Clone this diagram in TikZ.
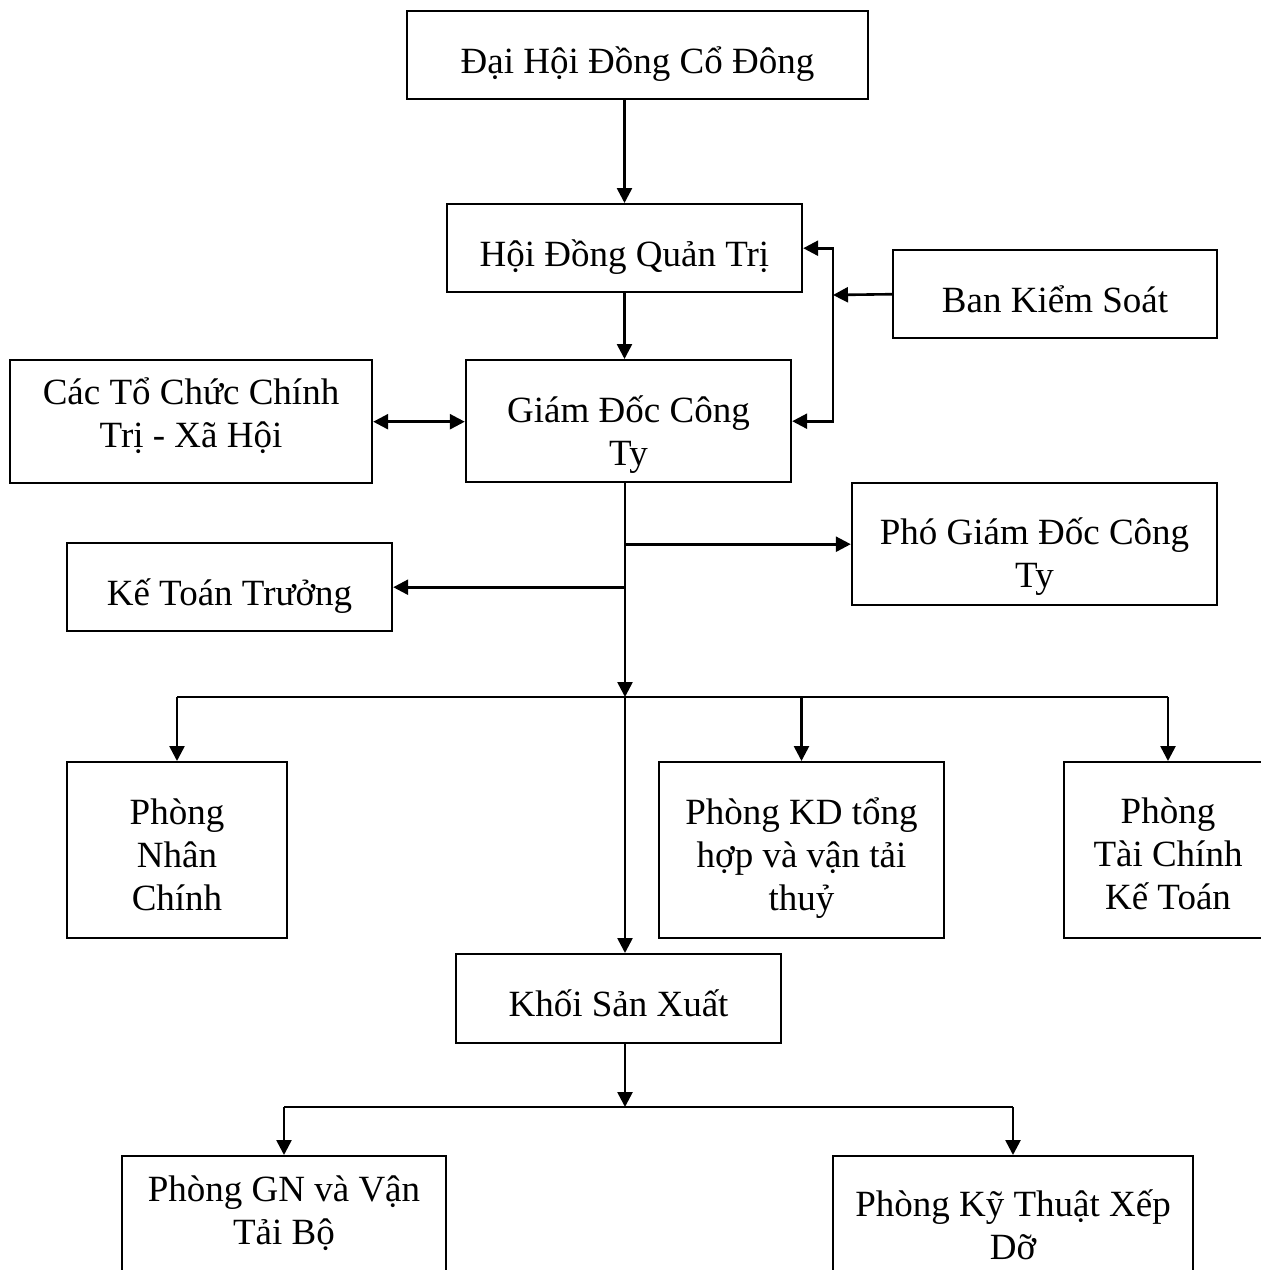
\documentclass[tikz,border=0pt]{standalone}
\usepackage{fontspec}
\setmainfont{Liberation Serif}
\usetikzlibrary{arrows.meta}

\begin{document}
\begin{tikzpicture}[x=1pt,y=-1pt,
                box/.style={draw,line width=2.4pt,anchor=north,align=center,inner xsep=0pt,inner ysep=0pt,font=\fontsize{37}{43}\selectfont},
                arr/.style={-{Triangle[length=15pt,width=15pt]},line width=2.6pt},
                arrboth/.style={{Triangle[length=15pt,width=15pt]}-{Triangle[length=15pt,width=15pt]},line width=2.6pt}]
                \useasboundingbox (0,0) rectangle (1261,1270);

                \node[box,minimum width=461pt,text height=62pt,text depth=26pt] (dhcd) at (637.5,10) {Đại Hội Đồng Cổ Đông};
                \node[box,minimum width=355pt,text height=62pt,text depth=26pt] (hdqt) at (624.5,203) {Hội Đồng Quản Trị};
                \node[box,minimum width=324pt,text height=62pt,text depth=26pt] (bks) at (1055,249) {Ban Kiểm Soát};
                \node[box,minimum width=362pt,text height=87pt,text depth=36pt] (ctc) at (191,359) {Các Tổ Chức Chính\\Trị - Xã Hội};
                \node[box,minimum width=325pt,text height=105pt,text depth=17pt] (gd) at (628.5,359) {Giám Đốc Công\\Ty};
                \node[box,minimum width=365pt,text height=104pt,text depth=18pt] (pgd) at (1034.5,482) {Phó Giám Đốc Công\\Ty};
                \node[box,minimum width=325pt,text height=62pt,text depth=26pt] (ktt) at (229.5,542) {Kế Toán Trưởng};
                \node[box,minimum width=220pt,text height=148pt,text depth=28pt] (pnc) at (177,761) {Phòng\\Nhân\\Chính};
                \node[box,minimum width=285pt,text height=148pt,text depth=28pt] (pkd) at (801.5,761) {Phòng KD tổng\\hợp và vận tải\\thuỷ};
                \node[box,minimum width=208pt,text height=147pt,text depth=29pt] (ptc) at (1168,761) {Phòng\\Tài Chính\\Kế Toán};
                \node[box,minimum width=325pt,text height=62pt,text depth=27pt] (kxs) at (618.5,953) {Khối Sản Xuất};
                \node[box,minimum width=324pt,text height=88pt,text depth=97pt] (pgn) at (284,1155) {Phòng GN và Vận\\Tải Bộ};
                \node[box,minimum width=360pt,text height=103pt,text depth=97pt] (pkt) at (1013,1155) {Phòng Kỹ Thuật Xếp\\Dỡ};

                \coordinate (ks) at (833,295);
                \coordinate (hub) at (625,697);
                \coordinate (hub2) at (625,1107);

                \draw[arr] (dhcd.south -| hdqt.north) -- (hdqt.north);
                \draw[arr] (hdqt.south) -- (hdqt.south |- gd.north);
                \draw[arr] (bks.west) -- (ks);
                \draw[arr] (ks) |- (hdqt.east);
                \draw[arr] (ks) |- (gd.east);
                \draw[arrboth] (ctc.east) -- (ctc.east -| gd.west);

                \draw[arr] (gd.south -| hub) -- (hub);
                \draw[arr] (pgd.west -| hub) -- (pgd.west);
                \draw[arr] (ktt.east -| hub) -- (ktt.east);
                \draw[line width=2.6pt] (pnc.north |- hub) -- (ptc.north |- hub);
                \draw[arr] (pnc.north |- hub) -- (pnc.north);
                \draw[arr] (pkd.north |- hub) -- (pkd.north);
                \draw[arr] (ptc.north |- hub) -- (ptc.north);
                \draw[arr] (hub) -- (hub |- kxs.north);

                \draw[arr] (kxs.south -| hub2) -- (hub2);
                \draw[line width=2.6pt] (pgn.north |- hub2) -- (pkt.north |- hub2);
                \draw[arr] (pgn.north |- hub2) -- (pgn.north);
                \draw[arr] (pkt.north |- hub2) -- (pkt.north);
            \end{tikzpicture}
\end{document}
